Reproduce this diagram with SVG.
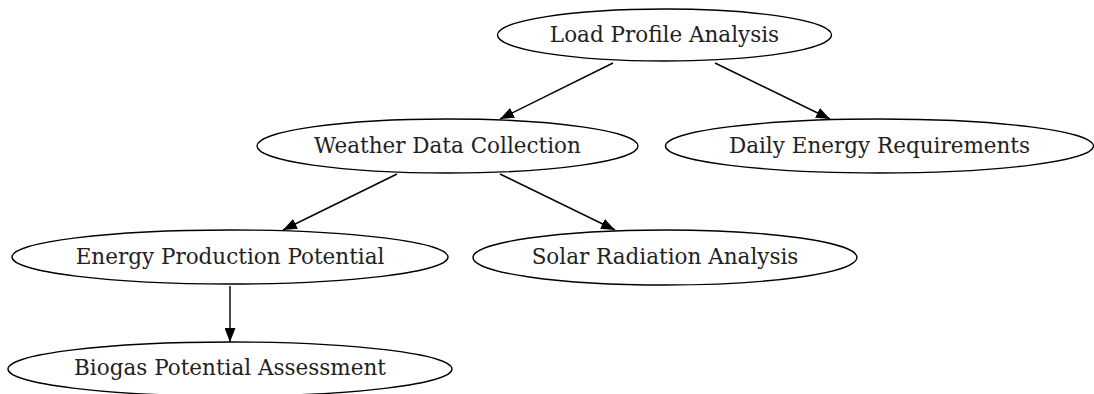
<svg xmlns="http://www.w3.org/2000/svg" width="1094" height="394" viewBox="0 0 1094 394">
<style>
.node ellipse{fill:#fff;stroke:#000;stroke-width:1.4}
.node text{font-family:"DejaVu Serif",serif;font-size:21.5px;fill:#222;text-anchor:middle}
.edge{stroke:#000;stroke-width:1.4;fill:none;marker-end:url(#ah)}
</style>
<defs>
<marker id="ah" viewBox="0 0 14 11" refX="14" refY="5.5" markerWidth="14" markerHeight="11" markerUnits="userSpaceOnUse" orient="auto">
<path d="M0,0 L14,5.5 L0,11 Z" fill="#000"/>
</marker>
</defs>
<rect width="1094" height="394" fill="#fff"/>
<g id="connectors">
<path class="edge" d="M613,63 L500,119"/>
<path class="edge" d="M715,63 L830,119"/>
<path class="edge" d="M397,174 L283,230"/>
<path class="edge" d="M500,174 L615,230"/>
<path class="edge" d="M230,286 L230,342"/>
</g>
<g id="load" class="node"><ellipse cx="664.5" cy="35" rx="167" ry="26"/><text x="664.5" y="42">Load Profile Analysis</text></g>
<g id="weather" class="node"><ellipse cx="447.5" cy="146" rx="190.5" ry="27"/><text x="447.5" y="153">Weather Data Collection</text></g>
<g id="daily" class="node"><ellipse cx="879.5" cy="146" rx="214" ry="27"/><text x="879.5" y="153">Daily Energy Requirements</text></g>
<g id="energy" class="node"><ellipse cx="230" cy="257" rx="218" ry="27"/><text x="230" y="264">Energy Production Potential</text></g>
<g id="solar" class="node"><ellipse cx="665" cy="257.5" rx="192" ry="27.5"/><text x="665" y="264">Solar Radiation Analysis</text></g>
<g id="biogas" class="node"><ellipse cx="230" cy="369" rx="222" ry="27"/><text x="230" y="375">Biogas Potential Assessment</text></g>
</svg>
